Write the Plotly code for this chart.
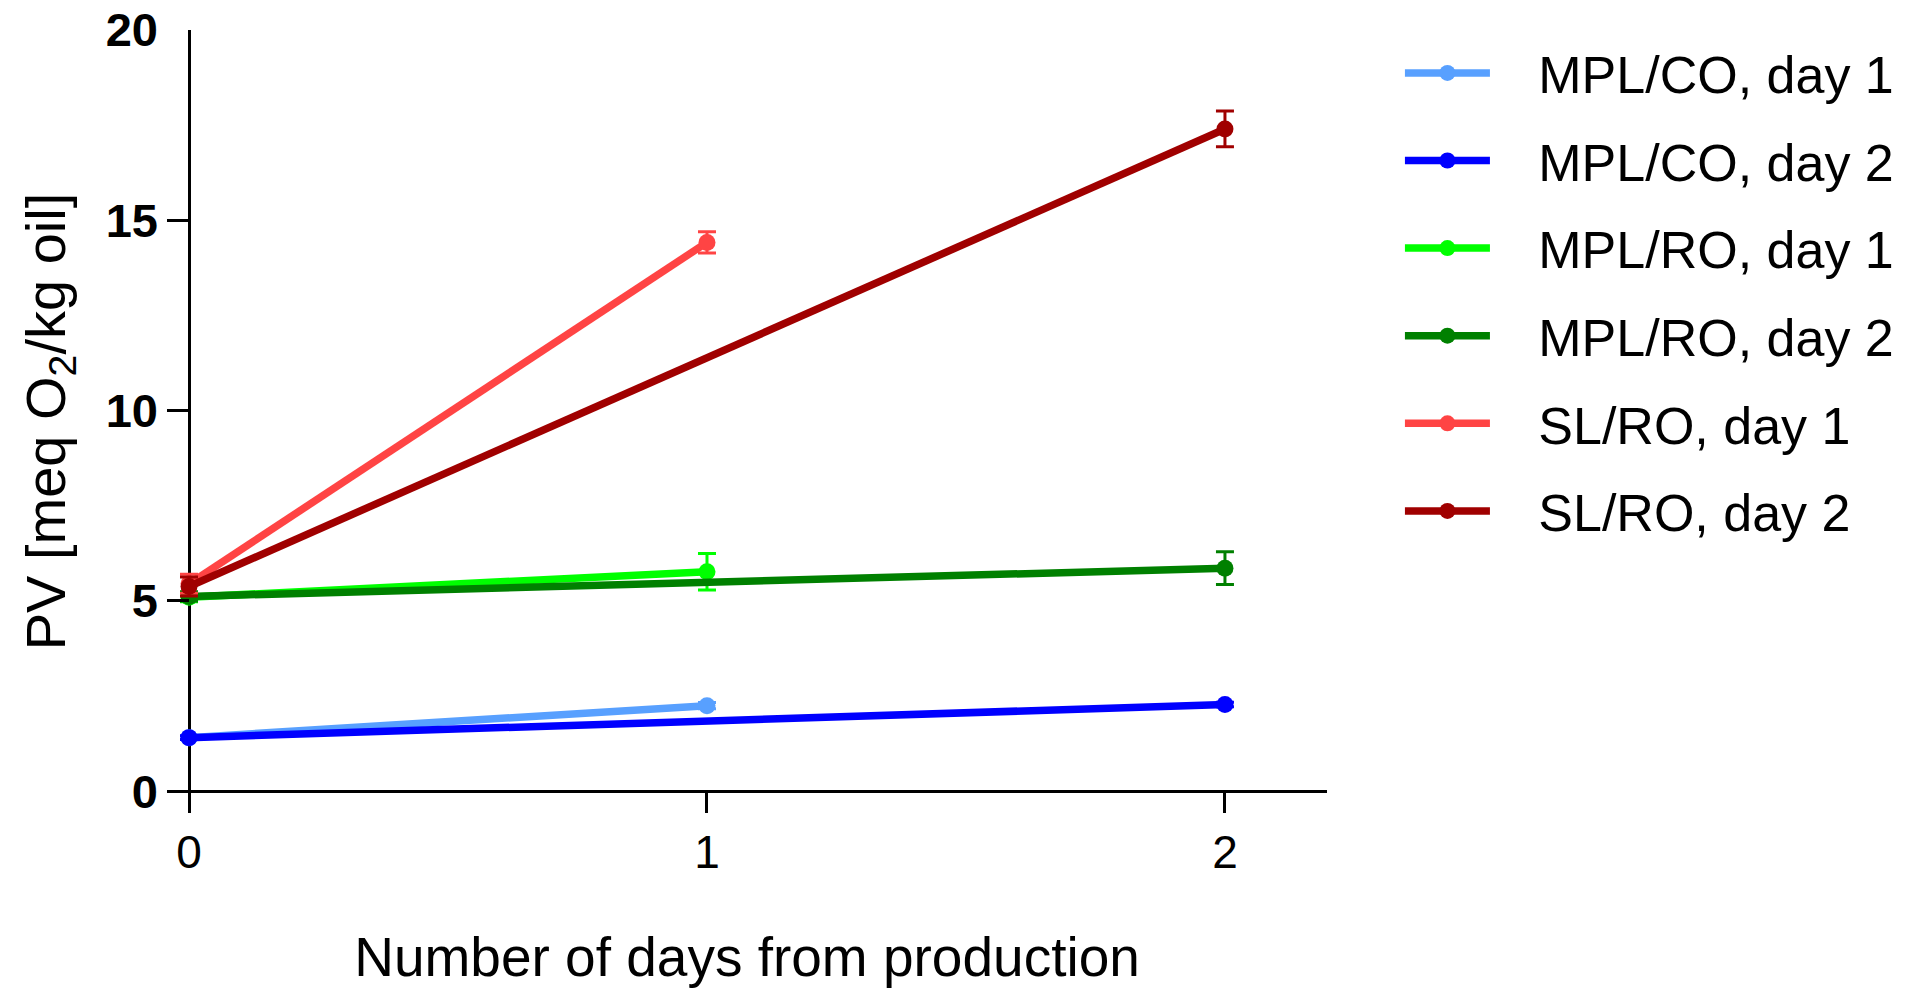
import plotly.graph_objects as go

# ---- data ----
names = ["MPL/CO, day 1", "MPL/CO, day 2", "MPL/RO, day 1",
         "MPL/RO, day 2", "SL/RO, day 1", "SL/RO, day 2"]
x_day1 = [0, 1]
x_day2 = [0, 2]
mplco_d1 = [1.41, 2.25]
mplco_d1_err = [0.05, 0.08]
mplco_d2 = [1.41, 2.28]
mplco_d2_err = [0.05, 0.06]
mplro_d1 = [5.10, 5.77]
mplro_d1_err = [0.12, 0.48]
mplro_d2 = [5.12, 5.86]
mplro_d2_err = [0.12, 0.43]
slro_d1 = [5.45, 14.42]
slro_d1_err = [0.25, 0.28]
slro_d2 = [5.38, 17.40]
slro_d2_err = [0.25, 0.47]

x_ticks = [0, 1, 2]
y_ticks = [0, 5, 10, 15, 20]

colors = ["#58A0FF", "#0000FF", "#00FF00", "#008000", "#FF4444", "#A00000"]
series = [
    (names[0], x_day1, mplco_d1, mplco_d1_err),
    (names[1], x_day2, mplco_d2, mplco_d2_err),
    (names[2], x_day1, mplro_d1, mplro_d1_err),
    (names[3], x_day2, mplro_d2, mplro_d2_err),
    (names[4], x_day1, slro_d1, slro_d1_err),
    (names[5], x_day2, slro_d2, slro_d2_err),
]

FONT = "Liberation Sans, Arial, sans-serif"
GAP = "\u00a0\u00a0\u00a0"  # visual gap between legend sample and label

fig = go.Figure()
for i, ((nm, xs, ys, es), col) in enumerate(zip(series, colors)):
    fig.add_trace(go.Scatter(
        x=xs, y=ys, name=GAP + nm, mode="lines+markers",
        legendgroup=f"g{i}",
        line=dict(color=col, width=7.5),
        marker=dict(color=col, size=17),
        error_y=dict(type="data", array=es, visible=True,
                     color=col, thickness=3, width=9),
        cliponaxis=False,
    ))

fig.update_layout(
    width=1913, height=988,
    margin=dict(l=167, r=586, t=30, b=175, autoexpand=False),
    paper_bgcolor="white", plot_bgcolor="white",
    font=dict(family=FONT, color="black"),
    showlegend=True,
    legend=dict(
        xref="container", yref="container",
        x=0.7318, y=0.967, xanchor="left", yanchor="top",
        font=dict(size=52, family=FONT, color="black"),
        itemwidth=85, tracegroupgap=17,
        maxheight=1.0,
        bgcolor="rgba(0,0,0,0)",
    ),
)

fig.update_xaxes(
    range=[-0.0425, 2.197],
    tickvals=x_ticks, ticktext=[str(v) for v in x_ticks],
    ticks="inside", ticklen=21, tickwidth=2.5, tickcolor="black",
    ticklabelstandoff=8,
    tickfont=dict(size=46, family=FONT, color="black"),
    showgrid=False, showline=False,
    zeroline=True, zerolinecolor="black", zerolinewidth=3,
    title=dict(text="Number of days from production",
               font=dict(size=55, family=FONT, color="black"),
               standoff=66),
    automargin=False,
)
fig.update_yaxes(
    range=[-0.57, 20],
    tickvals=y_ticks, ticktext=[str(v) for v in y_ticks],
    ticks="inside", ticklen=22, tickwidth=2.5, tickcolor="black",
    ticklabelstandoff=8,
    tickfont=dict(size=47, family=FONT, color="black", weight="bold"),
    showgrid=False, showline=False,
    zeroline=True, zerolinecolor="black", zerolinewidth=3,
    title=dict(text="PV [meq O<sub>2</sub>/kg oil]",
               font=dict(size=56, family=FONT, color="black"),
               standoff=22),
    automargin=False,
)

fig.write_html("out.html")
